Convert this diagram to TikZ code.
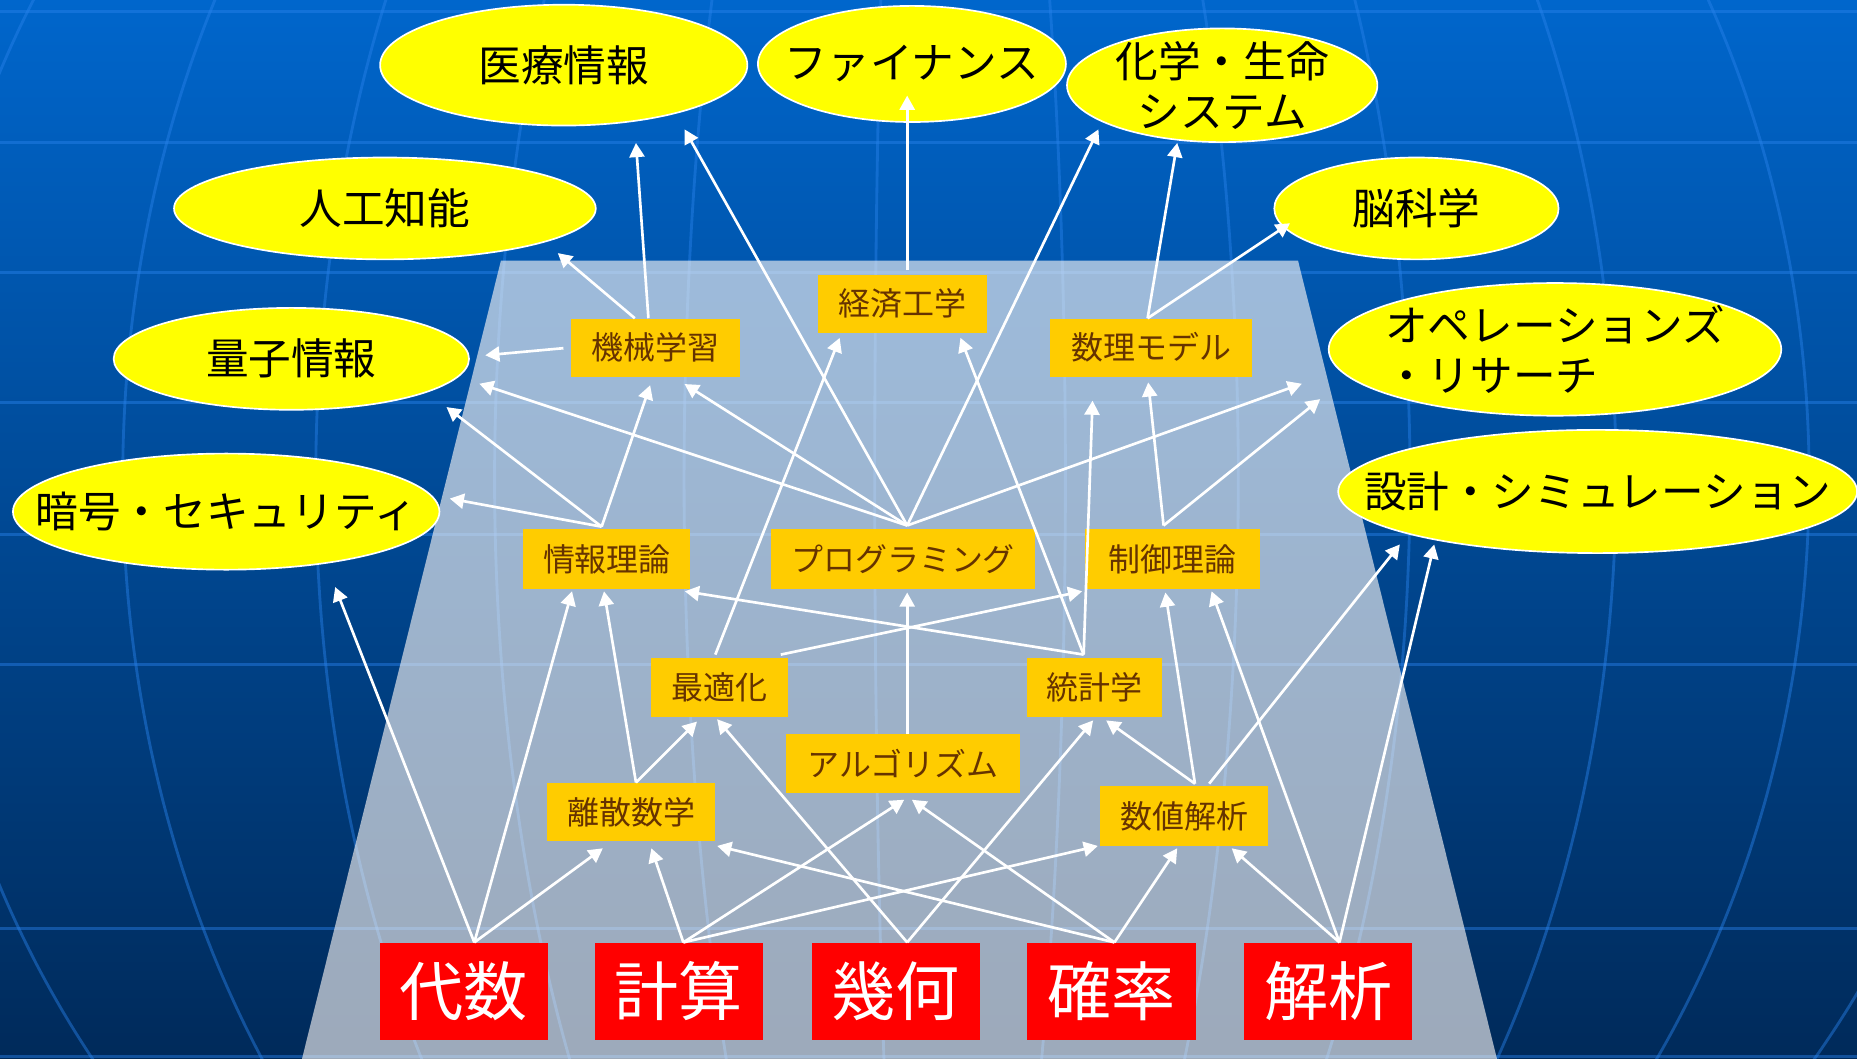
\documentclass[tikz,border=0pt]{standalone}
\usepackage{fontspec}
\newfontfamily\jp{Noto Sans CJK JP}
\usetikzlibrary{shapes.geometric,arrows.meta}
\definecolor{bgtop}{RGB}{0,102,204}
\definecolor{bgbot}{RGB}{0,42,90}
\definecolor{gridc}{RGB}{40,130,235}
\definecolor{trapc}{RGB}{255,250,247}
\definecolor{boxorange}{RGB}{255,204,0}
\definecolor{boxtext}{RGB}{102,51,0}
\definecolor{redbox}{RGB}{255,0,0}
\definecolor{elly}{RGB}{255,255,0}
\begin{document}
\begin{tikzpicture}[x=0.025cm, y=-0.025cm,
  gridline/.style={draw=gridc, line width=1.7pt, opacity=0.45},
  ell/.style 2 args={ellipse, fill=elly, draw=white, line width=1pt, minimum width=#1*0.05cm, minimum height=#2*0.05cm, inner sep=0pt},
  etxt/.style={font=\jp\fontsize{25.6}{30}\selectfont, text=black, align=center, inner sep=0pt},
  obox/.style 2 args={rectangle, fill=boxorange, minimum width=#1*0.025cm, minimum height=#2*0.025cm, inner sep=0pt, font=\jp\fontsize{19.2}{23}\selectfont, text=boxtext},
  rbox/.style={rectangle, fill=redbox, minimum width=142*0.025cm, minimum height=82*0.025cm, inner sep=0pt, font=\jp\fontsize{38.5}{46}\selectfont, text=white},
  arr/.style={draw=white, line width=1.6pt, -{Triangle[length=8.5pt,width=9pt]}},
]
% background
\path[use as bounding box] (0,0) rectangle (1568,894);
\shade[top color=bgtop, bottom color=bgbot] (0,0) rectangle (1568,894);
\begin{scope}
  \clip (0,0) rectangle (1568,894);
  \foreach \yy in {10,120,230,340,451,561,784,892}
    \draw[gridline] (0,\yy) -- (1568,\yy);
  \foreach \a in {-853,-680,-517,-366,-206,-45,116,262,407,581,744,905}
    \draw[gridline] plot[domain=-32:38, samples=50, smooth] ({783.6+(\a)*cos(\x)}, {404.5+871*sin(\x)});
\end{scope}
% trapezoid
\fill[trapc, opacity=0.615] (423,220) -- (1096,220) -- (1264,894) -- (255,894) -- cycle;

% ellipses
\node[ell={155}{51}, label={[etxt]center:医療情報}] (iryo) at (476,55) {};
\node[ell={130}{49}, label={[etxt]center:ファイナンス}] (finance) at (770,54) {};
\node[ell={131}{48}, label={[etxt]center:{化学・生命\\システム}}] (kagaku) at (1032,72) {};
\node[ell={178}{43}, label={[etxt]center:人工知能}] (jinko) at (325,176) {};
\node[ell={120}{43}, label={[etxt]center:脳科学}] (nou) at (1196,176) {};
\node[ell={150}{43}, label={[etxt]center:量子情報}] (ryoshi) at (246,303) {};
\node[ell={191}{56}, label={[etxt, align=left]center:{オペレーションズ\\・リサーチ}}] (opres) at (1313,295) {};
\node[ell={180}{49}, label={[etxt]center:暗号・セキュリティ}] (anko) at (191,432) {};
\node[ell={219}{52}, label={[etxt]center:設計・シミュレーション}] (sekkei) at (1349,415) {};

% orange boxes
\node[obox={142}{49}] (keizai) at (762,256.5) {経済工学};
\node[obox={143}{49}] (kikai) at (553.5,293.5) {機械学習};
\node[obox={170}{49}] (suri) at (972,293.5) {数理モデル};
\node[obox={141}{50}] (joho) at (512.5,472) {情報理論};
\node[obox={223}{50}] (prog) at (762.5,472) {プログラミング};
\node[obox={148}{50}] (seigyo) at (990,472) {制御理論};
\node[obox={115}{49}] (saiteki) at (607.5,580.5) {最適化};
\node[obox={114}{49}] (tokei) at (924,580.5) {統計学};
\node[obox={197}{50}] (algo) at (762.5,645) {アルゴリズム};
\node[obox={142}{49}] (risan) at (533,685.5) {離散数学};
\node[obox={142}{50}] (suchi) at (1000,689) {数値解析};

% red boxes
\node[rbox] (daisu) at (391.5,837) {代数};
\node[rbox] (keisan) at (573,837) {計算};
\node[rbox] (kika) at (756.5,837) {幾何};
\node[rbox] (kakuritsu) at (938.5,837) {確率};
\node[rbox] (kaiseki) at (1121.5,837) {解析};

% connectors
\draw[arr] ([shift={(9,0)}]daisu.north) -- ([shift={(92,14)}]anko.south);
\draw[arr] ([shift={(9,0)}]daisu.north) -- ([shift={(-29.5,2)}]joho.south);
\draw[arr] ([shift={(9,0)}]daisu.north) -- ([shift={(-24,6)}]risan.south);
\draw[arr] ([shift={(4,0)}]keisan.north) -- ([shift={(17,6)}]risan.south);
\draw[arr] ([shift={(4,0)}]keisan.north) -- ([shift={(1,5)}]algo.south);
\draw[arr] ([shift={(4,0)}]keisan.north) -- ([shift={(-73,0)}]suchi.south);
\draw[arr] ([shift={(9.5,0)}]kika.north) -- ([shift={(-2,2)}]saiteki.south);
\draw[arr] ([shift={(9.5,0)}]kika.north) -- ([shift={(-1,3)}]tokei.south);
\draw[arr] ([shift={(2.5,0)}]kakuritsu.north) -- ([shift={(72.6,4)}]risan.south);
\draw[arr] ([shift={(2.5,0)}]kakuritsu.north) -- ([shift={(7.5,5)}]algo.south);
\draw[arr] ([shift={(2.5,0)}]kakuritsu.north) -- ([shift={(-6,2)}]suchi.south);
\draw[arr] ([shift={(9.5,0)}]kaiseki.north) -- ([shift={(40,2)}]suchi.south);
\draw[arr] ([shift={(9.5,0)}]kaiseki.north) -- ([shift={(33,2)}]seigyo.south);
\draw[arr] ([shift={(9.5,0)}]kaiseki.north) -- ([shift={(-138,-8)}]sekkei.south);
\draw[arr] ([shift={(9,-2)}]suchi.north) -- ([shift={(10,3)}]tokei.south);
\draw[arr] ([shift={(9,-2)}]suchi.north) -- ([shift={(-6,3)}]seigyo.south);
\draw[arr] ([shift={(21,-2)}]suchi.north) -- ([shift={(-167,-8)}]sekkei.south);
\draw[arr] ([shift={(4,0)}]risan.north) -- ([shift={(-19,4)}]saiteki.south);
\draw[arr] ([shift={(4,0)}]risan.north) -- ([shift={(-2.5,2)}]joho.south);
\draw[arr] ([shift={(-3.5,-3)}]saiteki.north) -- ([shift={(-53,4)}]keizai.south);
\draw[arr] ([shift={(-6,-3)}]saiteki.north east) -- ([shift={(-2,2)}]seigyo.south west);
\draw[arr] ([shift={(-9,-3)}]tokei.north) -- ([shift={(-5,2)}]joho.south east);
\draw[arr] ([shift={(-9,-3)}]tokei.north) -- ([shift={(49,4)}]keizai.south);
\draw[arr] ([shift={(-9,-3)}]tokei.north) -- ([shift={(-49.5,20)}]suri.south);
\draw[arr] ([shift={(3.5,0)}]algo.north) -- ([shift={(3.5,3)}]prog.south);
\draw[arr] ([shift={(-4.5,-2)}]joho.north) -- ([shift={(8,-11)}]anko.east);
\draw[arr] ([shift={(-4.5,-2)}]joho.north) -- ([shift={(131,-3)}]ryoshi.south);
\draw[arr] ([shift={(-4.5,-2)}]joho.north) -- ([shift={(-4.5,7)}]kikai.south);
\draw[arr] ([shift={(3.5,-3)}]prog.north) -- ([shift={(8,21)}]ryoshi.east);
\draw[arr] ([shift={(3.5,-3)}]prog.north) -- ([shift={(24.5,6)}]kikai.south);
\draw[arr] ([shift={(3.5,-3)}]prog.north) -- ([shift={(102,2.5)}]iryo.south);
\draw[arr] ([shift={(3.5,-3)}]prog.north) -- ([shift={(-104.5,-11.5)}]kagaku.south);
\draw[arr] ([shift={(3.5,-3)}]prog.north) -- ([shift={(-22,29)}]opres.west);
\draw[arr] ([shift={(-17.5,0)}]kikai.north) -- ([shift={(146,-6)}]jinko.south);
\draw[arr] ([shift={(-6,0)}]kikai.north) -- ([shift={(61,14)}]iryo.south);
\draw[arr] ([shift={(-6,0.5)}]kikai.west) -- ([shift={(13,-3)}]ryoshi.east);
\draw[arr] ([shift={(-3,0)}]suri.north) -- ([shift={(-38,0)}]kagaku.south);
\draw[arr] ([shift={(-3,0)}]suri.north) -- ([shift={(14,12.5)}]nou.west);
\draw[arr] ([shift={(4,-3.5)}]keizai.north) -- ([shift={(-4,-23)}]finance.south);
\draw[arr] ([shift={(-7.5,-3)}]seigyo.north) -- ([shift={(-2.5,4.6)}]suri.south);
\draw[arr] ([shift={(-7.5,-3)}]seigyo.north) -- ([shift={(-6.5,42)}]opres.west);
\end{tikzpicture}
\end{document}
